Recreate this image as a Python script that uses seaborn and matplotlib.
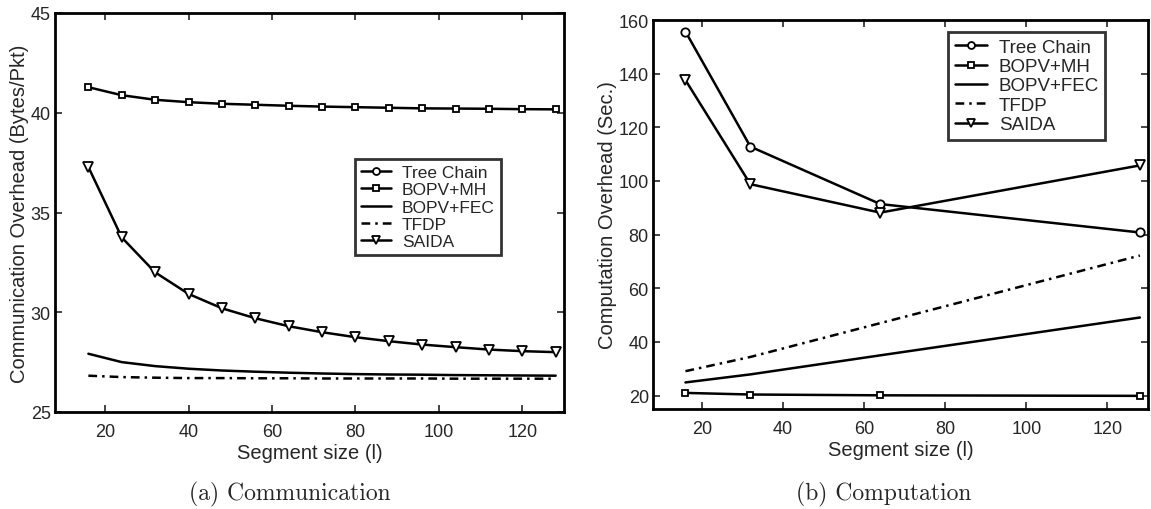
import numpy as np
import pandas as pd
import matplotlib
matplotlib.use("Agg")
import matplotlib.pyplot as plt
from matplotlib.lines import Line2D
import seaborn as sns

# (a) communication overhead, segment sizes 16..128
comm_seg = [16, 24, 32, 40, 48, 56, 64, 72, 80, 88, 96, 104, 112, 120, 128]
comm_bopv_mh = [41.28, 40.88, 40.65, 40.53, 40.45, 40.40, 40.35, 40.31, 40.28,
                40.25, 40.22, 40.21, 40.20, 40.18, 40.17]
comm_bopv_fec = [27.92, 27.50, 27.30, 27.17, 27.08, 27.02, 26.97, 26.93, 26.90,
                 26.88, 26.87, 26.85, 26.84, 26.83, 26.82]
comm_tfdp = [26.82, 26.75, 26.72, 26.70, 26.70, 26.69, 26.69, 26.68, 26.68,
             26.68, 26.68, 26.67, 26.67, 26.67, 26.67]
comm_saida = [37.28, 33.75, 32.00, 30.92, 30.20, 29.70, 29.30, 29.00, 28.75,
              28.55, 28.38, 28.25, 28.13, 28.05, 28.00]

# (b) computation overhead
comp_seg = [16, 32, 64, 128]
comp_tree = [155.7, 112.8, 91.4, 80.8]
comp_bopv_mh = [21.0, 20.4, 20.1, 19.9]
comp_bopv_fec = [24.9, 27.9, 35.0, 49.1]
comp_tfdp = [29.1, 34.4, 47.0, 72.2]
comp_saida = [137.6, 98.8, 88.2, 105.8]

names = ["Tree Chain", "BOPV+MH", "BOPV+FEC", "TFDP", "SAIDA"]
styles = {
    "Tree Chain": dict(marker="o", linestyle="-", markersize=6),
    "BOPV+MH": dict(marker="s", linestyle="-", markersize=5),
    "BOPV+FEC": dict(marker=None, linestyle="-"),
    "TFDP": dict(marker=None, linestyle=(0, (3.5, 2, 1, 2))),
    "SAIDA": dict(marker="v", linestyle="-", markersize=7),
}

sns.set_style("ticks")
plt.rcParams["font.family"] = ["Liberation Sans", "DejaVu Sans"]
plt.rcParams["xtick.direction"] = "in"
plt.rcParams["ytick.direction"] = "in"


def draw(ax, x, series):
    for name, vals in series.items():
        st = styles[name]
        df = pd.DataFrame({"seg": x, "val": vals})
        sns.lineplot(data=df, x="seg", y="val", ax=ax, color="black",
                     linewidth=1.8, marker=st["marker"],
                     markersize=st.get("markersize", 6),
                     markerfacecolor="white", markeredgecolor="black",
                     markeredgewidth=1.3, linestyle=st["linestyle"])


def style_axes(ax, ylabel, ylim, yticks, legend_pos, legend_size):
    ax.set_xlim(8, 130)
    ax.set_ylim(*ylim)
    ax.set_xticks([20, 40, 60, 80, 100, 120])
    ax.set_yticks(yticks)
    ax.tick_params(top=True, right=True, labelsize=13, length=5, width=1.2)
    ax.tick_params(axis="x", pad=8)
    ax.tick_params(axis="y", pad=3)
    for sp in ax.spines.values():
        sp.set_visible(True)
        sp.set_linewidth(2.0)
        sp.set_color("black")
    ax.set_xlabel("Segment size (l)", fontsize=14.5, labelpad=2)
    ax.set_ylabel(ylabel, fontsize=14.5, labelpad=1)
    handles = []
    for name in names:
        st = styles[name]
        handles.append(Line2D([], [], color="black", linewidth=1.8,
                              marker=st["marker"],
                              markersize=st.get("markersize", 6) - 1,
                              markerfacecolor="white", markeredgewidth=1.3,
                              linestyle=st["linestyle"]))
    leg = ax.legend(handles, names, loc="upper left",
                    bbox_to_anchor=legend_pos, fontsize=legend_size,
                    frameon=True, fancybox=False, edgecolor="black",
                    handlelength=1.75, handletextpad=0.6, labelspacing=0.12,
                    borderpad=0.35, borderaxespad=0)
    leg.get_frame().set_linewidth(2.0)


fig = plt.figure(figsize=(11.51, 5.10), dpi=100)
ax1 = fig.add_axes([55 / 1151, 1 - 413 / 510, 509 / 1151, 399 / 510])
ax2 = fig.add_axes([653 / 1151, 1 - 410 / 510, 495 / 1151, 389 / 510])

draw(ax1, comm_seg, {"BOPV+MH": comm_bopv_mh, "BOPV+FEC": comm_bopv_fec,
                     "TFDP": comm_tfdp, "SAIDA": comm_saida})
style_axes(ax1, "Communication Overhead (Bytes/Pkt)", (25, 45),
           [25, 30, 35, 40, 45], ((355 - 55) / 509, (413 - 160) / 399), 12.5)

draw(ax2, comp_seg, {"Tree Chain": comp_tree, "BOPV+MH": comp_bopv_mh,
                     "BOPV+FEC": comp_bopv_fec, "TFDP": comp_tfdp,
                     "SAIDA": comp_saida})
style_axes(ax2, "Computation Overhead (Sec.)", (15, 160),
           [20, 40, 60, 80, 100, 120, 140, 160],
           ((948 - 653) / 495, (410 - 33) / 389), 13.5)

fig.text(290 / 1151, 1 - 494 / 510, "(a) Communication", ha="center",
         va="center", fontsize=17, family="cmr10")
fig.text(884 / 1151, 1 - 494 / 510, "(b) Computation", ha="center",
         va="center", fontsize=17, family="cmr10")

fig.savefig("out.png", dpi=100, facecolor="white")
